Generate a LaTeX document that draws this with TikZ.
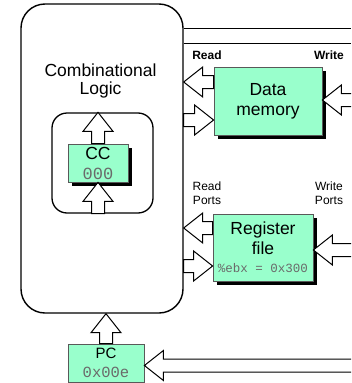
\documentclass[tikz,border=0pt]{standalone}
\usepackage{fontspec}
\setmainfont{Liberation Sans}
\setsansfont{Liberation Sans}
\setmonofont{Liberation Mono}
\usepackage{tikz}
\usetikzlibrary{calc,shadows,positioning}

\definecolor{stategreen}{HTML}{99FFCC}
\definecolor{valgray}{HTML}{6A6A6A}

\newcommand{\blockarrow}[2]{%
  \coordinate (ba-s) at (#1);
  \coordinate (ba-t) at (#2);
  \coordinate (ba-b) at ($(ba-t)!19pt!(ba-s)$);
  \draw[blockarrowline] ($(ba-s)!6.5pt!90:(ba-t)$) -- ($(ba-b)!6.5pt!90:(ba-t)$)
    -- ($(ba-b)!15pt!90:(ba-t)$) -- (ba-t) -- ($(ba-b)!15pt!-90:(ba-t)$)
    -- ($(ba-b)!6.5pt!-90:(ba-t)$) -- ($(ba-s)!6.5pt!-90:(ba-t)$) -- cycle;}
\newcommand{\valtext}[2]{{\fontsize{#1}{#1}\selectfont\ttfamily\color{valgray}#2}}

\begin{document}
\begin{tikzpicture}[x=1pt,y=-1pt,
  logicbox/.style={draw,line width=1.4pt,rounded corners=24pt,inner sep=0pt},
  ccframe/.style={draw,line width=1.3pt,rounded corners=15pt,inner sep=0pt},
  statebox/.style={draw=black!65,line width=0.8pt,fill=stategreen,align=center,inner sep=0pt,
    font=\fontsize{17.5}{20}\selectfont},
  shadowed/.style={drop shadow={shadow xshift=3.5pt,shadow yshift=-3.5pt,fill=black,opacity=1}},
  portlabel/.style={align=center,inner sep=0pt,font=\fontsize{12}{13.5}\selectfont},
  blockarrowline/.style={draw,fill=white,line width=1pt,line join=miter}]
\useasboundingbox (0,0) rectangle (351,383);
\clip (0,0) rectangle (351,383);

\node[logicbox,minimum width=162pt,minimum height=309pt] (logic) at (102,158.5) {};
\node[align=center,inner sep=0pt,font=\fontsize{17.5}{18.5}\selectfont] (logictext) at (100.5,81) {Combinational\\Logic};
\node[ccframe,minimum width=101pt,minimum height=100pt] (ccbox) at (102.5,163) {};
\node[statebox,shadowed,minimum width=60pt,minimum height=38pt] (cc) at (98,163) {CC\\\valtext{17}{000}};

\node[statebox,shadowed,minimum width=108pt,minimum height=68pt] (dmem) at (268,101) {Data\\memory};
\node[statebox,shadowed,minimum width=100pt,minimum height=67pt] (regfile) at (263,247.5) {Register\\file\\[-2pt]\valtext{12.5}{\%ebx = 0x300}};
\node[statebox,minimum width=76pt,minimum height=38pt,font=\fontsize{15}{19}\selectfont] (pc) at (106,363) {PC\\\valtext{15.5}{0x00e}};

\node[portlabel,font=\fontsize{12}{13.5}\selectfont\bfseries] (dmemrd) at (207,55) {Read};
\node[portlabel,font=\fontsize{12}{13.5}\selectfont\bfseries] (dmemwr) at (329,55) {Write};
\node[portlabel] (regrd) at (207,193) {Read\\Ports};
\node[portlabel] (regwr) at (329,193) {Write\\Ports};

\coordinate (topa) at (351,28);
\coordinate (topb) at (351,43);
\draw[line width=1pt] (logic.east |- topa) -- (topa);
\draw[line width=1pt] (logic.east |- topb) -- (topb);

\blockarrow{cc.north}{cc.north |- ccbox.north}
\blockarrow{cc.south |- ccbox.south}{cc.south}
\blockarrow{pc.north}{pc.north |- logic.south}

\coordinate (dmemout) at ($(dmem.west)+(0,-19)$);
\coordinate (dmemin) at ($(dmem.west)+(0,19)$);
\coordinate (dmemwrite) at (360,100);
\blockarrow{dmemout}{logic.east |- dmemout}
\blockarrow{logic.east |- dmemin}{dmemin}
\blockarrow{dmemwrite}{dmem.east |- dmemwrite}

\coordinate (regout) at ($(regfile.west)+(0,-19.5)$);
\coordinate (regin) at ($(regfile.west)+(0,18.5)$);
\coordinate (regwrite) at (360,250);
\blockarrow{regout}{logic.east |- regout}
\blockarrow{logic.east |- regin}{regin}
\blockarrow{regwrite}{regfile.east |- regwrite}

\coordinate (pcwrite) at (360,365.5);
\blockarrow{pcwrite}{pc.east |- pcwrite}
\end{tikzpicture}
\end{document}
